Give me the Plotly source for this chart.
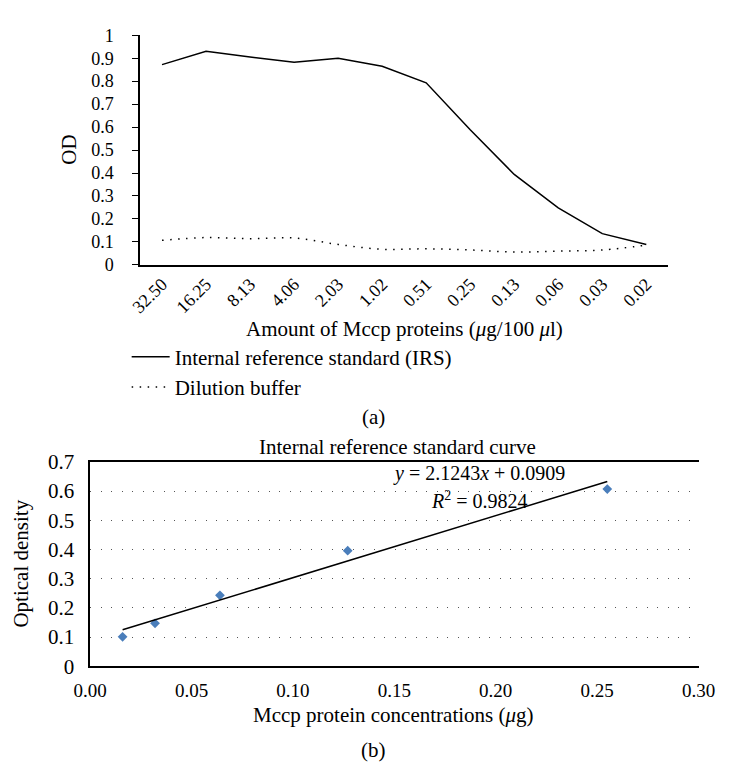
import plotly.graph_objects as go

# ---- Panel (a): OD across the dilution series ----
AMOUNTS = ["32.50", "16.25", "8.13", "4.06", "2.03", "1.02",
           "0.51", "0.25", "0.13", "0.06", "0.03", "0.02"]
IRS_OD = [0.872, 0.930, 0.905, 0.882, 0.900, 0.865,
          0.793, 0.588, 0.394, 0.248, 0.136, 0.089]
BUFFER_OD = [0.107, 0.119, 0.114, 0.117, 0.089, 0.068,
             0.070, 0.065, 0.056, 0.060, 0.065, 0.086]

# ---- Panel (b): standard curve ----
CONC_UG = [0.016, 0.032, 0.064, 0.127, 0.255]
OPT_DENSITY = [0.101, 0.147, 0.243, 0.396, 0.607]
SLOPE = 2.1243
INTERCEPT = 0.0909
R_SQUARED = 0.9824

W, H = 733, 771
SERIF = "Liberation Serif, Times New Roman, serif"


def px_x(p):
    return p / W


def px_y(p):
    return 1 - p / H


fig = go.Figure()

fig.add_trace(go.Scatter(
    x=AMOUNTS, y=IRS_OD, mode="lines",
    name="Internal reference standard (IRS)",
    line=dict(color="black", width=1.5),
    xaxis="x", yaxis="y",
))
fig.add_trace(go.Scatter(
    x=AMOUNTS, y=BUFFER_OD, mode="lines",
    name="Dilution buffer",
    line=dict(color="black", width=1.5, dash="1.5px,6.5px",
              shape="spline", smoothing=1.0),
    xaxis="x", yaxis="y",
))

fig.add_trace(go.Scatter(
    x=CONC_UG, y=OPT_DENSITY, mode="markers",
    marker=dict(symbol="diamond", size=7.5, color="#4a7ebb"),
    showlegend=False, xaxis="x2", yaxis="y2",
))
fit_x = [min(CONC_UG), max(CONC_UG)]
fit_y = [SLOPE * v + INTERCEPT for v in fit_x]
fig.add_trace(go.Scatter(
    x=fit_x, y=fit_y, mode="lines",
    line=dict(color="black", width=1.5),
    showlegend=False, xaxis="x2", yaxis="y2",
))

fig.update_layout(
    width=W, height=H, autosize=False,
    margin=dict(l=0, r=0, t=0, b=0),
    paper_bgcolor="white", plot_bgcolor="white",
    font=dict(family=SERIF, size=18, color="black"),
    xaxis=dict(
        domain=[px_x(129), px_x(683)],
        type="category", categoryorder="array", categoryarray=AMOUNTS,
        range=[-0.5, 11.5], showline=True, linecolor="black", linewidth=1.5,
        ticks="", tickangle=-45, tickfont=dict(family=SERIF, size=18),
        showgrid=False, zeroline=False, anchor="y",
    ),
    yaxis=dict(
        domain=[px_y(261), px_y(24)],
        range=[0, 1], dtick=0.1, tick0=0,
        showline=True, linecolor="black", linewidth=1.5,
        ticks="outside", ticklen=6, tickcolor="black", tickwidth=1.2,
        tickfont=dict(family=SERIF, size=18), ticklabelstandoff=15,
        showgrid=False, zeroline=False, anchor="x",
    ),
    xaxis2=dict(
        domain=[px_x(76.7), px_x(714.7)],
        range=[0, 0.3], dtick=0.05, tick0=0, tickformat=".2f",
        showline=True, mirror=True, linecolor="black", linewidth=1.5,
        ticks="", tickfont=dict(family=SERIF, size=19), ticklabelstandoff=6,
        showgrid=False, zeroline=False, anchor="y2",
    ),
    yaxis2=dict(
        domain=[px_y(675.3), px_y(464.3)],
        range=[0, 0.7], dtick=0.1, tick0=0,
        showline=True, linecolor="black", linewidth=1.5,
        ticks="", tickfont=dict(family=SERIF, size=21), ticklabelstandoff=10,
        showgrid=True, gridcolor="#555555", gridwidth=1,
        griddash="1px,9.5px", zeroline=False, anchor="x2",
    ),
    legend=dict(
        x=px_x(115), xanchor="left",
        y=px_y(335), yanchor="top",
        font=dict(family=SERIF, size=21),
        bgcolor="rgba(0,0,0,0)", borderwidth=0,
        itemwidth=38, tracegroupgap=0,
    ),
)

annotations = [
    dict(text="OD", x=px_x(55), y=px_y(141.7), textangle=-90, size=21),
    dict(text="Amount of Mccp proteins (<i>μ</i>g/100 <i>μ</i>l)",
         x=px_x(406), y=px_y(326.7), size=21),
    dict(text="(a)", x=px_x(374), y=px_y(418.3), size=21),
    dict(text="Internal reference standard curve",
         x=px_x(399), y=px_y(449.3), size=21),
    dict(text="Optical density", x=px_x(4), y=px_y(569.5),
         textangle=-90, size=21),
    dict(text="Mccp protein concentrations (<i>μ</i>g)",
         x=px_x(395), y=px_y(726), size=21),
    dict(text="(b)", x=px_x(374), y=px_y(761.7), size=21),
]
for a in annotations:
    fig.add_annotation(
        text=a["text"], x=a["x"], y=a["y"], xref="paper", yref="paper",
        xanchor="center", yanchor="middle", showarrow=False,
        textangle=a.get("textangle", 0),
        font=dict(family=SERIF, size=a["size"], color="black"),
    )

# Trendline equation and fit quality
fig.add_annotation(
    text=f"<i>y</i> = {SLOPE:.4f}<i>x</i> + {INTERCEPT:.4f}",
    x=0.1918, y=0.659, xref="x2", yref="y2", showarrow=False,
    xanchor="center", yanchor="middle",
    font=dict(family=SERIF, size=20, color="black"),
)
fig.add_annotation(
    text=f"<i>R</i><sup>2</sup> = {R_SQUARED:.4f}",
    x=0.1918, y=0.571, xref="x2", yref="y2", showarrow=False,
    xanchor="center", yanchor="middle",
    font=dict(family=SERIF, size=20, color="black"),
)

fig.write_html("out.html")
